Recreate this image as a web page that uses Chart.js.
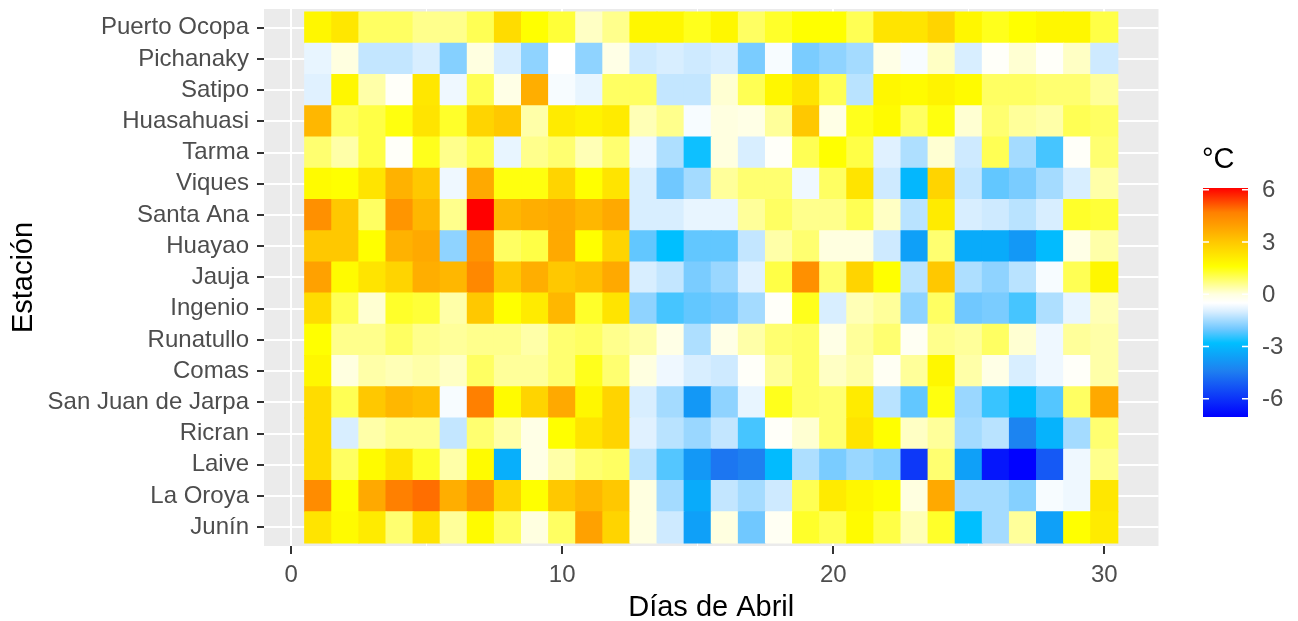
<!DOCTYPE html>
<html>
<head>
<meta charset="utf-8">
<title>Anomalías de temperatura — Abril</title>
<script src="https://cdn.jsdelivr.net/npm/chart.js@4.4.1/dist/chart.umd.min.js"></script>
<style>
  html, body { margin: 0; padding: 0; background: #ffffff; }
  #wrap { width: 1298px; height: 621px; }
</style>
</head>
<body>
<div id="wrap"><canvas id="c" width="1298" height="621"></canvas></div>
<script>
// Stations, top to bottom
const stations = [
  'Puerto Ocopa', 'Pichanaky', 'Satipo', 'Huasahuasi', 'Tarma', 'Viques',
  'Santa Ana', 'Huayao', 'Jauja', 'Ingenio', 'Runatullo', 'Comas',
  'San Juan de Jarpa', 'Ricran', 'Laive', 'La Oroya', 'Junín'
];

// Days of April
const days = [1, 2, 3, 4, 5, 6, 7, 8, 9, 10, 11, 12, 13, 14, 15,
              16, 17, 18, 19, 20, 21, 22, 23, 24, 25, 26, 27, 28, 29, 30];

// Axis and colour-bar ticks
const xTicks = [0, 5, 10, 15, 20, 25, 30];
const xLabelTicks = [0, 10, 20, 30];
const legendTicks = [6, 3, 0, -3, -6];

// Daily anomaly (°C) per station, days 1..30
const puertoOcopa = [1.8, 2.2, 0.9, 0.9, 0.6, 0.6, 1.0, 2.5, 1.6, 1.2, 0.2, 0.6, 1.8, 1.8, 1.4, 1.8, 0.9, 1.3, 1.6, 1.6, 1.0, 2.3, 2.3, 2.7, 1.8, 1.4, 1.6, 1.8, 1.8, 1.1];
const pichanaky   = [-0.8, 0.0, -1.2, -1.2, -1.0, -1.8, 0.0, -1.0, -1.7, -0.5, -1.7, -0.1, -1.1, -1.0, -1.1, -1.0, -1.9, -0.6, -1.9, -1.7, -1.5, -0.1, -0.6, 0.2, -1.0, -0.4, 0.1, -0.4, 0.2, -1.1];
const satipo      = [-0.9, 1.8, 0.4, -0.4, 2.2, -0.7, 1.0, -0.1, 3.6, -0.6, -0.8, 0.9, 0.9, -1.2, -1.2, 0.1, 1.0, 1.8, 2.3, 1.0, -1.3, 1.8, 1.7, 1.9, 1.7, 0.9, 0.9, 0.8, 0.8, 0.5];
const huasahuasi  = [3.4, 0.9, 1.1, 1.5, 2.3, 1.3, 2.7, 3.0, 0.4, 2.1, 1.9, 2.1, 0.3, 0.6, -0.6, 0.0, -0.1, 0.5, 3.0, -0.1, 1.4, 1.7, 0.9, 1.5, 0.1, 0.8, 0.5, 0.4, 1.0, 0.9];
const tarma       = [0.8, 0.4, 1.1, -0.4, 1.4, 0.6, 1.0, -0.8, 0.6, 0.8, 0.3, 0.8, -0.7, -1.4, -2.7, 0.0, -1.0, -0.4, 1.0, 1.6, 1.1, -0.9, -1.4, 0.1, -1.1, 1.0, -1.5, -2.3, -0.4, 0.8];
const viques      = [1.7, 1.6, 2.3, 3.5, 3.0, -0.7, 3.7, 1.5, 1.5, 2.7, 1.6, 2.3, -1.0, -2.0, -1.5, 0.5, 0.8, 0.8, -0.7, 0.9, 2.3, -1.1, -3.0, 2.7, -1.2, -2.1, -1.9, -1.5, -1.0, 0.4];
const santaAna    = [4.3, 3.0, 0.9, 4.2, 3.4, 0.6, 6.1, 3.4, 3.6, 3.7, 3.4, 3.7, -1.0, -1.0, -0.8, -0.8, 0.5, 0.9, 0.6, 0.6, 1.0, 0.2, -1.3, 2.1, -1.0, -1.1, -1.3, -1.0, 1.3, 1.2];
const huayao      = [3.0, 3.0, 1.6, 3.5, 3.7, -1.7, 4.2, 0.9, 1.1, 3.7, 1.6, 2.7, -2.1, -2.8, -2.1, -2.1, -1.2, 0.4, 0.8, 0.0, 0.0, -1.1, -3.6, 0.8, -3.3, -3.3, -3.8, -2.9, -0.1, 0.4];
const jauja       = [3.9, 1.7, 2.3, 2.7, 3.6, 3.4, 4.5, 3.0, 3.6, 3.0, 3.2, 3.7, -1.0, -1.2, -1.9, -1.6, -0.9, 1.1, 4.3, 0.8, 2.7, 1.6, -1.3, 3.0, -1.4, -1.7, -1.3, -0.6, 1.0, 1.8];
const ingenio     = [2.5, 1.0, 0.1, 1.3, 1.2, 0.4, 3.0, 1.6, 2.1, 3.4, 1.3, 2.3, -1.7, -2.3, -2.1, -2.0, -1.5, -0.4, 1.4, -1.0, 0.3, 0.5, -1.7, 0.9, -2.0, -1.9, -2.3, -1.4, -0.8, 0.3];
const runatullo   = [1.6, 0.6, 0.6, 0.9, 0.6, 0.5, 0.6, 0.6, 0.4, 0.8, 0.9, 0.6, 0.4, -0.1, -1.4, -0.1, 0.4, 0.8, 0.9, -0.1, 0.5, 0.8, -0.3, 0.6, 0.5, 0.9, 0.1, -0.7, 0.5, 0.4];
const comas       = [1.8, 0.0, 0.4, 0.3, 0.4, 0.2, 0.9, 0.5, 0.5, 0.8, 1.4, 0.8, 0.0, -0.7, -1.0, -1.1, -0.4, 0.5, 0.9, 0.2, 0.4, -0.3, 0.5, 1.8, 0.4, -0.1, -1.0, -0.7, -0.4, 0.4];
const sanJuanDeJarpa = [2.5, 1.0, 3.0, 3.4, 3.2, -0.6, 4.7, 1.7, 2.7, 3.7, 1.8, 2.7, -1.0, -1.5, -3.8, -1.7, -0.8, 1.4, 0.9, 0.8, 2.1, -1.3, -2.1, 1.5, -1.6, -2.4, -2.9, -2.2, 0.9, 3.7];
const ricran      = [2.5, -1.0, 0.4, 0.6, 0.6, -1.2, 0.8, 0.4, -0.1, 1.6, 2.3, 2.7, -0.9, -1.3, -1.6, -1.2, -2.3, -0.4, 0.1, 0.8, 2.3, 1.6, 0.2, 0.5, -1.5, -1.3, -4.3, -3.1, -1.5, 0.8];
const laive       = [2.5, 0.9, 1.7, 2.3, 1.3, 0.4, 1.7, -3.2, -0.1, 0.4, 0.8, 0.9, -1.3, -2.2, -3.8, -4.6, -4.4, -2.9, -1.4, -1.9, -1.6, -1.8, -5.9, 0.8, -3.6, -6.6, -7.0, -5.2, -0.7, 0.6];
const laOroya     = [4.4, 1.6, 3.7, 4.7, 4.9, 3.6, 4.3, 2.7, 1.6, 3.0, 3.4, 3.0, 0.0, -1.5, -3.3, -1.2, -1.5, -1.1, 1.0, 2.1, 1.8, 1.6, 0.0, 3.7, -1.5, -1.5, -1.8, -0.6, -0.7, 2.2];
const junin       = [2.3, 1.7, 2.1, 0.8, 2.3, 0.5, 1.7, 0.9, 0.0, 0.9, 3.9, 2.7, 0.0, -1.1, -3.6, 0.0, -2.0, -0.3, 1.3, 1.0, 1.7, 1.1, 0.3, 1.3, -2.8, -1.5, 0.5, -3.6, 1.6, 2.1];

const stationValues = [
  puertoOcopa, pichanaky, satipo, huasahuasi, tarma, viques, santaAna, huayao,
  jauja, ingenio, runatullo, comas, sanJuanDeJarpa, ricran, laive, laOroya, junin
];

// Colour scale: value -> colour stops
const fillRange = [-7.05, 6.1];
const colourStops = [
  [-7.05, '#0000FF'],
  [-4.4,  '#1E80F0'],
  [-2.8,  '#00BFFF'],
  [-2.0,  '#70C8FF'],
  [-1.0,  '#D8EEFF'],
  [-0.5,  '#FFFFFF'],
  [0.0,   '#FFFFE0'],
  [1.6,   '#FFFF00'],
  [3.0,   '#FFC800'],
  [3.8,   '#FFA500'],
  [4.7,   '#FF8000'],
  [6.1,   '#FF0000']
];

function hexToRgb(h) {
  const n = parseInt(h.slice(1), 16);
  return [(n >> 16) & 255, (n >> 8) & 255, n & 255];
}

function fillFor(v) {
  const t = Math.min(fillRange[1], Math.max(fillRange[0], v));
  for (let i = 0; i < colourStops.length - 1; i++) {
    const [v0, c0] = colourStops[i];
    const [v1, c1] = colourStops[i + 1];
    if (t >= v0 && t <= v1) {
      const f = (t - v0) / (v1 - v0);
      const a = hexToRgb(c0), b = hexToRgb(c1);
      const rgb = a.map((x, k) => Math.round(x + (b[k] - x) * f));
      return 'rgb(' + rgb.join(',') + ')';
    }
  }
  return colourStops[colourStops.length - 1][1];
}

// One tile per station and day: a floating bar spanning the day
const cells = [];
stationValues.forEach((vals, r) => {
  vals.forEach((v, d) => {
    cells.push({ x: [days[d] - 0.5, days[d] + 0.5], y: r + 1, v: v });
  });
});

const FONT = "'Liberation Sans', Arial, Helvetica, sans-serif";
const TICK_GREY = '#4D4D4D';
Chart.defaults.font.family = FONT;

// Grey panel behind the tiles
const panelBackground = {
  id: 'panelBackground',
  beforeDraw(chart) {
    const { ctx, chartArea: a } = chart;
    ctx.save();
    ctx.fillStyle = '#EBEBEB';
    ctx.fillRect(a.left, a.top, a.right - a.left, a.bottom - a.top);
    ctx.restore();
  }
};

// Continuous colour bar with its title and ticks
const colourBar = {
  id: 'colourBar',
  afterDraw(chart) {
    const ctx = chart.ctx;
    const left = 1203, width = 45, top = 188, bottom = 417;
    const span = fillRange[1] - fillRange[0];
    const yFor = v => top + (fillRange[1] - v) / span * (bottom - top);

    ctx.save();
    const g = ctx.createLinearGradient(0, top, 0, bottom);
    colourStops.forEach(([v, c]) => g.addColorStop((fillRange[1] - v) / span, c));
    ctx.fillStyle = g;
    ctx.fillRect(left, top, width, bottom - top);

    ctx.strokeStyle = '#FFFFFF';
    ctx.lineWidth = 1.5;
    ctx.font = '24px ' + FONT;
    ctx.fillStyle = TICK_GREY;
    ctx.textAlign = 'left';
    ctx.textBaseline = 'middle';
    legendTicks.forEach(v => {
      const y = yFor(v);
      ctx.beginPath();
      ctx.moveTo(left, y); ctx.lineTo(left + 6, y);
      ctx.moveTo(left + width - 6, y); ctx.lineTo(left + width, y);
      ctx.stroke();
      ctx.fillText(String(v), 1262, y + 1);
    });

    ctx.fillStyle = '#000000';
    ctx.font = '29px ' + FONT;
    ctx.fillText('°C', 1202, 160);
    ctx.restore();
  }
};

new Chart(document.getElementById('c'), {
  type: 'bar',
  data: {
    datasets: [{
      data: cells,
      backgroundColor: cells.map(c => fillFor(c.v)),
      borderWidth: 0,
      inflateAmount: 0.5,
      barPercentage: 1,
      categoryPercentage: 1,
      grouped: false
    }]
  },
  options: {
    indexAxis: 'y',
    responsive: false,
    animation: false,
    events: [],
    layout: { padding: { left: 0, top: 9, right: 139.5, bottom: 0 } },
    plugins: {
      legend: { display: false },
      tooltip: { enabled: false }
    },
    scales: {
      x: {
        type: 'linear',
        position: 'bottom',
        min: -1,
        max: 32,
        offset: false,
        afterBuildTicks(scale) { scale.ticks = xTicks.map(v => ({ value: v })); },
        afterFit(scale) { scale.height = 75; scale.paddingLeft = 0; scale.paddingRight = 0; },
        border: { display: false },
        grid: {
          offset: false,
          color: '#FFFFFF',
          lineWidth: ctx => (ctx.tick && xLabelTicks.includes(ctx.tick.value)) ? 2 : 1,
          tickColor: ctx => (ctx.tick && xLabelTicks.includes(ctx.tick.value)) ? '#333333' : 'rgba(0,0,0,0)',
          tickWidth: 2,
          tickLength: 8,
          drawTicks: true
        },
        ticks: {
          autoSkip: false,
          maxRotation: 0,
          padding: 7,
          color: TICK_GREY,
          font: { size: 24 },
          callback: v => xLabelTicks.includes(v) ? String(v) : ''
        },
        title: {
          display: true,
          text: 'Días de Abril',
          color: '#000000',
          font: { size: 29, lineHeight: 1 },
          padding: { top: 0, bottom: -1 }
        }
      },
      y: {
        type: 'linear',
        reverse: true,
        min: 0.4,
        max: 17.6,
        offset: false,
        afterBuildTicks(scale) { scale.ticks = stations.map((s, i) => ({ value: i + 1 })); },
        afterFit(scale) { scale.width = 264; scale.paddingTop = 0; scale.paddingBottom = 0; },
        border: { display: false },
        grid: {
          offset: false,
          color: '#FFFFFF',
          lineWidth: 2,
          tickColor: '#333333',
          tickWidth: 2,
          tickLength: 7,
          drawTicks: true
        },
        ticks: {
          autoSkip: false,
          padding: 8,
          color: TICK_GREY,
          font: { size: 24 },
          callback: v => stations[Math.round(v) - 1]
        },
        title: {
          display: true,
          text: 'Estación',
          color: '#000000',
          font: { size: 29, lineHeight: 1 },
          padding: { top: 9.5, bottom: 0 }
        }
      }
    }
  },
  plugins: [panelBackground, colourBar]
});
</script>
</body>
</html>
